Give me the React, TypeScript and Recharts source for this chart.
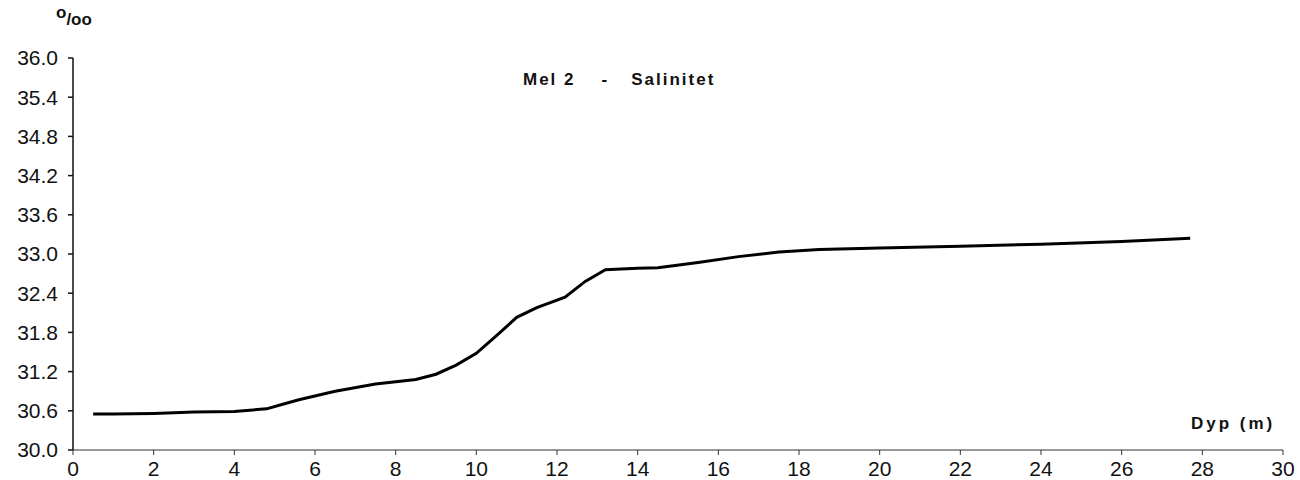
import React from 'react';
import { LineChart, Line, XAxis, YAxis } from 'recharts';

// depth (m) and salinity (o/oo)
const depths = [0.5, 1, 2, 3, 4, 4.8, 5.2, 5.6, 6.5, 7.5, 8.5, 9, 9.5, 10, 10.5, 11, 11.5, 12.2, 12.7, 13.2, 14, 14.5, 15.5, 16.5, 17.5, 18.5, 20, 22, 24, 26, 27.7];
const salinity = [30.55, 30.55, 30.56, 30.58, 30.59, 30.63, 30.7, 30.77, 30.9, 31.01, 31.08, 31.16, 31.3, 31.48, 31.75, 32.03, 32.18, 32.34, 32.58, 32.76, 32.78, 32.79, 32.87, 32.96, 33.03, 33.07, 33.09, 33.12, 33.15, 33.19, 33.24];

const xTicks = [0, 2, 4, 6, 8, 10, 12, 14, 16, 18, 20, 22, 24, 26, 28, 30];
const yTicks = [30.0, 30.6, 31.2, 31.8, 32.4, 33.0, 33.6, 34.2, 34.8, 35.4, 36.0];

const titleParts = ['Mel 2', '-', 'Salinitet'];
const xLabel = 'Dyp (m)';

const data = depths.map((d, i) => ({ depth: d, sal: salinity[i] }));

const font = '"Liberation Sans", Arial, sans-serif';

export default function App() {
  return (
    <div style={{ position: 'absolute', left: 0, top: 0, width: 1300, height: 480, background: '#fff', fontFamily: font }}>
      <LineChart width={1300} height={480} data={data} margin={{ top: 58, right: 17, left: 0, bottom: 0 }}>
        <XAxis
          dataKey="depth"
          type="number"
          domain={[0, 30]}
          ticks={xTicks}
          interval={0}
          height={30}
          tickSize={5}
          tickMargin={6}
          stroke="#333"
          strokeWidth={1}
          tick={{ fill: '#111', fontSize: 21, fontFamily: font }}
        />
        <YAxis
          type="number"
          domain={[30, 36]}
          ticks={yTicks}
          interval={0}
          width={73}
          tickSize={5}
          tickMargin={10}
          stroke="#111"
          strokeWidth={1.5}
          tickFormatter={(v: number) => v.toFixed(1)}
          tick={{ fill: '#111', fontSize: 21, fontFamily: font }}
        />
        <Line
          type="linear"
          dataKey="sal"
          stroke="#000"
          strokeWidth={3}
          dot={false}
          isAnimationActive={false}
        />
      </LineChart>
      <div style={{ position: 'absolute', left: 56, top: 10, fontSize: 17, fontWeight: 'bold', color: '#111' }}>
        <span style={{ position: 'relative', top: -7 }}>o</span>/oo
      </div>
      <div style={{ position: 'absolute', left: 523, top: 70, fontSize: 17, fontWeight: 'bold', letterSpacing: 2, whiteSpace: 'pre', color: '#111' }}>
        <span>{titleParts[0]}</span>
        <span style={{ marginLeft: 26 }}>{titleParts[1]}</span>
        <span style={{ marginLeft: 22 }}>{titleParts[2]}</span>
      </div>
      <div style={{ position: 'absolute', left: 1191, top: 414, fontSize: 17, fontWeight: 'bold', letterSpacing: 3, whiteSpace: 'pre', color: '#111' }}>
        {xLabel}
      </div>
    </div>
  );
}
